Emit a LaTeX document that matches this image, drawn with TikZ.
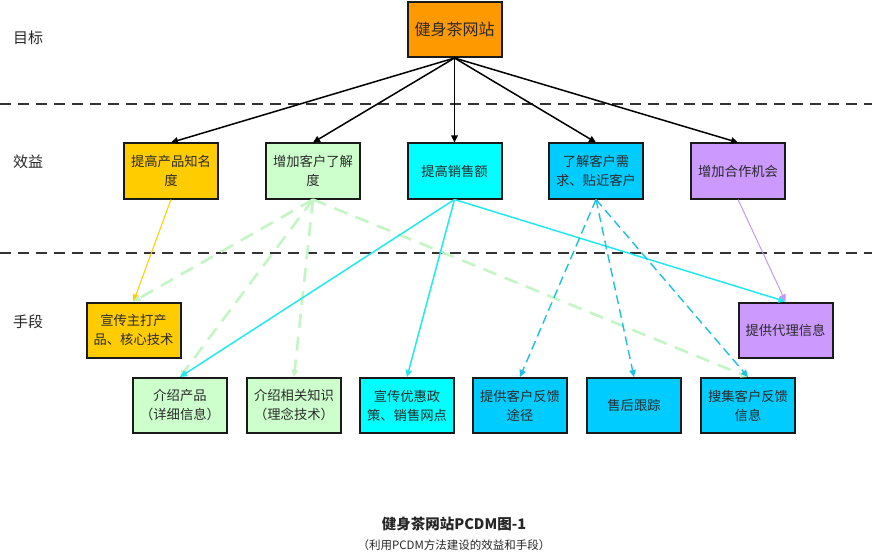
\documentclass[tikz,border=0pt]{standalone}
\usepackage{fontspec}
\setmainfont{Noto Sans CJK SC}
\usetikzlibrary{arrows.meta}
\definecolor{cOrange}{HTML}{FF9900}
\definecolor{cYellow}{HTML}{FFCC00}
\definecolor{cGreen}{HTML}{CCFFCC}
\definecolor{cGreenLine}{HTML}{C4F5C4}
\definecolor{cCyan}{HTML}{00FFFF}
\definecolor{cCyanLine}{HTML}{22E8F0}
\definecolor{cBlue}{HTML}{00CCFF}
\definecolor{cBlueLine}{HTML}{1EBFE6}
\definecolor{cPurple}{HTML}{CC99FF}
\definecolor{cPurpleLine}{HTML}{C29AF0}
\definecolor{cBorder}{HTML}{1A1A1A}
\definecolor{cText}{HTML}{2A2A2A}
\tikzset{
  box/.style={draw=cBorder, line width=2pt, minimum width=94pt, minimum height=55pt,
    inner sep=0pt, align=center, text=cText, font=\fontsize{13.3pt}{19pt}\selectfont},
  sep/.style={draw=black!80, line width=1.6pt, dash pattern=on 11pt off 7pt},
  lvl/.style={font=\fontsize{15pt}{18pt}\selectfont, text=black!85},
  tip/.style={-{Triangle[length=7pt,width=6.5pt]}},
  blackarr/.style={tip, draw=black, line width=1.5pt},
  yellowarr/.style={tip, draw=cYellow, fill=cYellow, line width=1pt},
  greenarr/.style={tip, draw=cGreenLine, line width=2.6pt, dash pattern=on 14pt off 9pt},
  cyanarr/.style={tip, draw=cCyanLine, line width=1.5pt},
  bluearr/.style={tip, draw=cBlueLine, line width=1.4pt, dash pattern=on 9pt off 5pt},
  purplearr/.style={tip, draw=cPurpleLine, line width=1pt},
}
\begin{document}
\begin{tikzpicture}[x=1pt,y=-1pt]
\useasboundingbox (0,0) rectangle (872,556);
% separators
\coordinate (s1a) at (0,104); \coordinate (s1b) at (872,104);
\coordinate (s2a) at (0,253); \coordinate (s2b) at (872,253);
\draw[sep] (s1a) -- (s1b);
\draw[sep] (s2a) -- (s2b);
% level labels
\node[lvl] (lv1) at (28,38) {目标};
\node[lvl] (lv2) at (28,162) {效益};
\node[lvl] (lv3) at (28,322) {手段};
% top
\node[box, fill=cOrange, font=\fontsize{16pt}{18pt}\selectfont] (top) at (454.5,29.5) {健身茶网站};
% row 2
\node[box, fill=cYellow] (b1) at (171,171) {提高产品知名\\度};
\node[box, fill=cGreen] (b2) at (313,171) {增加客户了解\\度};
\node[box, fill=cCyan] (b3) at (454.5,171) {提高销售额};
\node[box, fill=cBlue] (b4) at (596,171) {了解客户需\\求、贴近客户};
\node[box, fill=cPurple] (b5) at (738,171) {增加合作机会};
% row 3
\node[box, fill=cYellow] (m1) at (133.5,330) {宣传主打产\\品、核心技术};
\node[box, fill=cPurple] (m2) at (785.5,330) {提供代理信息};
% row 4
\node[box, fill=cGreen] (n1) at (180,405.5) {介绍产品\\（详细信息）};
\node[box, fill=cGreen] (n2) at (294,405.5) {介绍相关知识\\（理念技术）};
\node[box, fill=cCyan] (n3) at (407,405.5) {宣传优惠政\\策、销售网点};
\node[box, fill=cBlue] (n4) at (520,405.5) {提供客户反馈\\途径};
\node[box, fill=cBlue] (n5) at (634,405.5) {售后跟踪};
\node[box, fill=cBlue] (n6) at (748,405.5) {搜集客户反馈\\信息};
% caption
\node[font=\fontsize{14.5pt}{16pt}\selectfont\bfseries, text=black!85] (cap1) at (454,524) {健身茶网站PCDM图-1};
\node[font=\fontsize{11.5pt}{13pt}\selectfont, text=black!85] (cap2) at (454,545) {（利用PCDM方法建设的效益和手段）};
% edges
\foreach \t in {b1,b2,b3,b4,b5} \draw[blackarr] (top.south) -- (\t.north);
\draw[yellowarr] (b1.south) -- (m1.north);
\draw[greenarr] (b2.south) -- (m1.north);
\draw[greenarr] (b2.south) -- (n1.north);
\draw[greenarr] (b2.south) -- (n2.north);
\draw[greenarr] (b2.south) -- (n6.north);
\draw[cyanarr] (b3.south) -- (n1.north);
\draw[cyanarr] (b3.south) -- (n3.north);
\draw[cyanarr] (b3.south) -- (m2.north);
\draw[bluearr] (b4.south) -- (n4.north);
\draw[bluearr] (b4.south) -- (n5.north);
\draw[bluearr] (b4.south) -- (n6.north);
\draw[purplearr] (b5.south) -- (m2.north);
\end{tikzpicture}
\end{document}
